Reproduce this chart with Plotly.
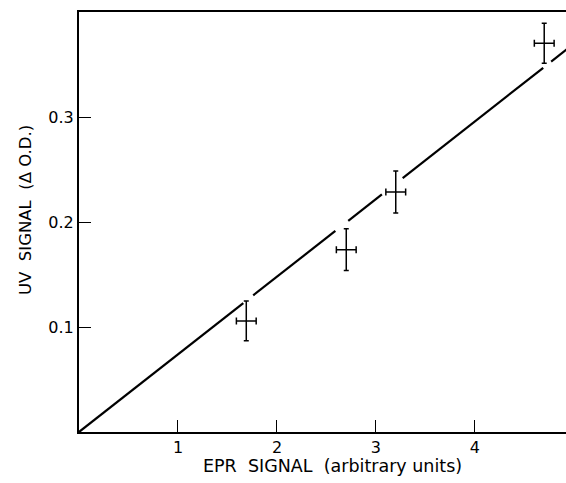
import plotly.graph_objects as go

# Data points (EPR signal vs UV signal) with error bars
epr = [1.69, 2.70, 3.20, 4.70]
uv = [0.106, 0.174, 0.229, 0.371]
epr_err = [0.10, 0.10, 0.10, 0.10]
uv_err = [0.019, 0.020, 0.020, 0.019]

# Fitted line through origin, drawn broken near the data points
fit_slope = 0.0741
fit_x = [0, 1.66, None, 1.76, 2.59, None, 2.72, 3.06, None, 3.27, 4.69, None, 4.77, 4.95]

x_ticks = [1, 2, 3, 4]
y_ticks = [0.1, 0.2, 0.3]
y_tick_text = ["0.1", "0.2", "0.3"]

fit_y = [None if v is None else fit_slope * v for v in fit_x]

font = "DejaVu Sans"

fig = go.Figure()
fig.add_trace(go.Scatter(
    x=fit_x, y=fit_y, mode="lines",
    line=dict(color="black", width=2.2),
    connectgaps=False, hoverinfo="skip", showlegend=False,
))
fig.add_trace(go.Scatter(
    x=epr, y=uv, mode="markers",
    marker=dict(size=1, color="black"),
    error_y=dict(type="data", array=uv_err, color="black", thickness=1.5, width=2.5),
    error_x=dict(type="data", array=epr_err, color="black", thickness=1.5, width=3.5),
    showlegend=False,
))

fig.update_layout(
    width=566, height=483,
    margin=dict(l=79, r=0, t=12, b=51),
    paper_bgcolor="white", plot_bgcolor="white",
    font=dict(family=font, size=16, color="black"),
    xaxis=dict(
        range=[0, 4.92], showgrid=False, zeroline=False,
        showline=True, linecolor="black", linewidth=2, mirror=True,
        ticks="inside", ticklen=12, tickwidth=1.3, tickcolor="black",
        tickvals=x_ticks, ticktext=[str(v) for v in x_ticks],
        tickfont=dict(size=16),
    ),
    yaxis=dict(
        range=[0, 0.4008], showgrid=False, zeroline=False,
        showline=True, linecolor="black", linewidth=2, mirror=False,
        ticks="inside", ticklen=12, tickwidth=1.3, tickcolor="black",
        tickvals=y_ticks, ticktext=y_tick_text,
        tickfont=dict(size=16),
    ),
    annotations=[
        dict(text="EPR  SIGNAL  (arbitrary units)", xref="paper", yref="paper",
             x=(332 - 79) / 487, y=-(466 - 432) / 420, xanchor="center", yanchor="middle",
             showarrow=False, font=dict(size=17.5)),
        dict(text="UV  SIGNAL  (\u0394 O.D.)", xref="paper", yref="paper",
             x=-(79 - 25) / 487, y=(432 - 210) / 420, xanchor="center", yanchor="middle",
             textangle=-90, showarrow=False, font=dict(size=16.5)),
    ],
)

fig.write_html(
    "out.html",
    config={"displayModeBar": False},
    post_script="document.body.style.margin='0';document.body.style.overflow='hidden';",
)
